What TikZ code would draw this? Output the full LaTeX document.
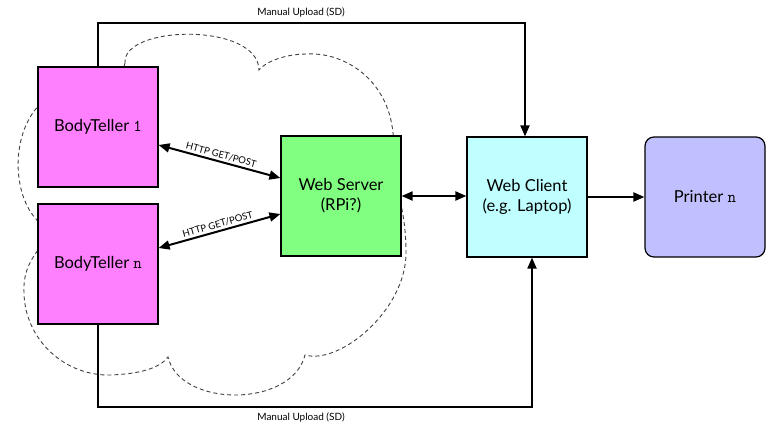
\documentclass[tikz,border=0pt]{standalone}
\usepackage{fontspec}
\setmainfont{Lato}
\usetikzlibrary{arrows.meta,calc}
\definecolor{btpink}{HTML}{FF80FF}
\definecolor{wsgreen}{HTML}{80FF80}
\definecolor{wccyan}{HTML}{C0FFFF}
\definecolor{prblue}{HTML}{C0C0FF}
\tikzset{
  box/.style={draw=black, line width=1.2pt, minimum width=120pt, minimum height=120pt, inner sep=0pt, align=center, font=\fontsize{16.5}{20}\selectfont},
  conn/.style={line width=2pt, -{Triangle[length=11pt,width=9pt]}},
  dconn/.style={line width=2pt, {Triangle[length=11pt,width=9pt]}-{Triangle[length=11pt,width=9pt]}},
  lbl/.style={font=\fontsize{10}{11}\selectfont, inner sep=1pt},
  httplbl/.style={font=\fontsize{9.5}{10}\selectfont, inner sep=2pt},
  cloudline/.style={draw=black!75, line width=0.9pt, dash pattern=on 4pt off 3pt}
}
\begin{document}
\begin{tikzpicture}[x=1pt,y=-1pt]
\useasboundingbox (0,0) rectangle (766,429);
% cloud
\draw[cloudline]
  (125,63) .. controls (122,85) and (90,90) .. (60,92)
  .. controls (5,110) and (5,215) .. (55,232)
  .. controls (30,255) and (23,272) .. (24,293)
  .. controls (25,340) and (65,376) .. (110,375)
  .. controls (140,374) and (160,368) .. (168,357)
  .. controls (180,408) and (292,408) .. (305,355)
  .. controls (340,365) and (406,310) .. (406,253)
  .. controls (406,220) and (400,200) .. (396,185)
  .. controls (395,160) and (395,145) .. (393,133)
  .. controls (388,80) and (345,52) .. (307,54)
  .. controls (285,54) and (265,62) .. (259,70)
  .. controls (258,22) and (122,25) .. (125,63);
% boxes
\node[box, fill=btpink] (bt1) at (98,127) {BodyTeller {\ttfamily 1}};
\node[box, fill=btpink] (btn) at (98,264) {BodyTeller {\ttfamily n}};
\node[box, fill=wsgreen] (ws) at (341,196) {Web Server\\(RPi?)};
\node[box, fill=wccyan] (wc) at (527,197) {Web Client\\(e.g. Laptop)};
\node[box, fill=prblue, rounded corners=9pt] (pr) at (705,197) {Printer {\ttfamily n}};
% connectors
\draw[dconn] ([yshift=-18pt]bt1.east) -- node[httplbl, midway, above, sloped] {HTTP GET/POST} ([yshift=18pt]ws.west);
\draw[dconn] ([yshift=16pt]btn.east) -- node[httplbl, midway, above, sloped] {HTTP GET/POST} ([yshift=-18pt]ws.west);
\draw[dconn] (ws.east) -- (wc.west |- ws.east);
\draw[conn] (wc.east) -- (pr.west);
\draw[conn] (bt1.north) -- (bt1.north |- 0,23) -| ([xshift=-2pt]wc.north);
\draw[conn] (btn.south) -- (btn.south |- 0,407) -| ([xshift=5pt]wc.south);
\node[lbl] (mu1) at (301,12) {Manual Upload (SD)};
\node[lbl] (mu2) at (301,417) {Manual Upload (SD)};
\end{tikzpicture}
\end{document}
